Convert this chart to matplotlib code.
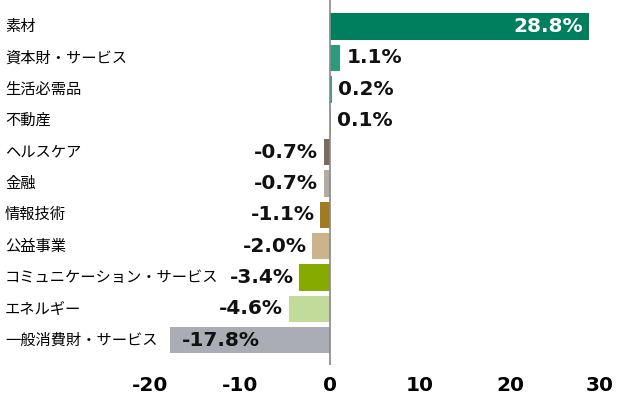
import matplotlib
matplotlib.use("Agg")
import matplotlib.pyplot as plt

plt.rcParams['font.family'] = ['Noto Sans CJK JP', 'DejaVu Sans']

sectors = ['素材', '資本財・サービス', '生活必需品', '不動産', 'ヘルスケア', '金融',
           '情報技術', '公益事業', 'コミュニケーション・サービス', 'エネルギー', '一般消費財・サービス']
returns = [28.8, 1.1, 0.2, 0.1, -0.7, -0.7, -1.1, -2.0, -3.4, -4.6, -17.8]
colors = ['#007f5f', '#2e9a7c', '#3a9c80', '#c8b488', '#7d6b5a', '#b3aaa2',
          '#a37a1e', '#cdb38a', '#86aa00', '#c2da9a', '#aaadb5']
ticks = [-20, -10, 0, 10, 20, 30]

fig = plt.figure(figsize=(6.17, 3.97), dpi=100)
ax = fig.add_axes([0, 0.08, 1, 0.92])

y = list(range(len(sectors)))
ax.barh(y, returns, height=0.84, color=colors, zorder=2)
ax.set_xlim(-330 / 9, 287 / 9)
ax.set_ylim(len(sectors) - 0.2, -0.85)
ax.axvline(0, color='#888888', lw=1.2, zorder=3)

lab = dict(fontsize=14.5, fontweight='bold', family='DejaVu Sans', va='center', zorder=4)
for i, (name, v) in enumerate(zip(sectors, returns)):
    ax.text(0.008, i, name, transform=ax.get_yaxis_transform(), ha='left', va='center',
            fontsize=11)
    txt = f'{v:.1f}%'
    if v > 20:
        ax.text(v - 0.7, i, txt, ha='right', color='white', **lab)
    elif v < -10:
        ax.text(v + 1.3, i, txt, ha='left', color='#111111', **lab)
    elif v >= 0:
        ax.text(v + 0.7, i, txt, ha='left', color='#111111', **lab)
    else:
        ax.text(v - 0.6, i, txt, ha='right', color='#111111', **lab)

ax.set_yticks([])
ax.set_xticks(ticks)
ax.set_xticklabels([str(t) for t in ticks], fontsize=14.5, fontweight='bold',
                   family='DejaVu Sans')
ax.tick_params(axis='x', length=0, pad=8)
for s in ax.spines.values():
    s.set_visible(False)

fig.savefig('out.png', dpi=100)
